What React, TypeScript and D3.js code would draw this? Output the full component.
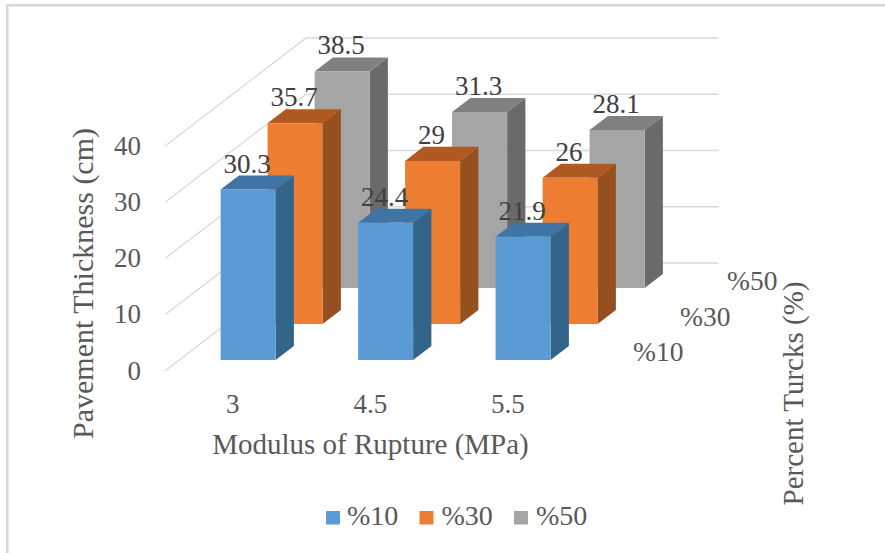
import * as d3 from "d3";

const W = 885;
const H = 553;

const categories = ["3", "4.5", "5.5"];
const seriesNames = ["%10", "%30", "%50"];
const values10 = [30.3, 24.4, 21.9];
const values30 = [35.7, 29, 26];
const values50 = [38.5, 31.3, 28.1];
const yTicks = [0, 10, 20, 30, 40];

const seriesValues = [values10, values30, values50];
const frontColors = ["#5B9BD5", "#ED7D31", "#A5A5A5"];
const sideColors = ["#326589", "#96501F", "#6A6A6A"];
const topColors = ["#3F74A5", "#B05A21", "#808080"];

const SERIF = "'Liberation Serif', serif";
const TEXT = "#595959";
const LABEL = "#404040";
const GRID = "#D9D9D9";

// Oblique projection: each depth unit moves a point right and up.
const DEPTH_DX = 47;
const DEPTH_DY = 36;

const x = d3.scaleBand<string>().domain(categories).range([165, 577.5]).paddingInner(0.6).paddingOuter(0.3);
const y = d3.scaleLinear().domain([0, 40]).range([371, 146]);
const z = d3.scaleBand<string>().domain(seriesNames).range([0, 3]).paddingInner(0.611).paddingOuter(0.3055);

const px = (xv: number, zv: number) => xv + zv * DEPTH_DX;
const py = (v: number, zv: number) => y(v) - zv * DEPTH_DY;
const poly = (pts: [number, number][]) => pts.map((p) => p.join(",")).join(" ");

function Bar({ cat, s, v }: { cat: string; s: number; v: number }) {
  const x0 = x(cat)!;
  const x1 = x0 + x.bandwidth();
  const z0 = z(seriesNames[s])!;
  const z1 = z0 + z.bandwidth();
  const front: [number, number][] = [[px(x0, z0), py(0, z0)], [px(x1, z0), py(0, z0)], [px(x1, z0), py(v, z0)], [px(x0, z0), py(v, z0)]];
  const side: [number, number][] = [[px(x1, z0), py(0, z0)], [px(x1, z1), py(0, z1)], [px(x1, z1), py(v, z1)], [px(x1, z0), py(v, z0)]];
  const top: [number, number][] = [[px(x0, z0), py(v, z0)], [px(x1, z0), py(v, z0)], [px(x1, z1), py(v, z1)], [px(x0, z1), py(v, z1)]];
  return (
    <g>
      <polygon points={poly(side)} fill={sideColors[s]} />
      <polygon points={poly(top)} fill={topColors[s]} />
      <polygon points={poly(front)} fill={frontColors[s]} />
    </g>
  );
}

export default function App() {
  const legendSquares = [326, 419.5, 514];
  const legendTexts = [347, 441.5, 536];
  return (
    <svg width={W} height={H} viewBox={`0 0 ${W} ${H}`} style={{ position: "absolute", left: 0, top: 0, fontFamily: SERIF }}>
      <rect width={W} height={H} fill="#fff" />
      {/* chart frame */}
      <path d="M7.3,553 V5.2 H885" fill="none" stroke="#D6D6D6" strokeWidth={2.5} />

      {/* side and back wall gridlines */}
      {yTicks.map((t) => (
        <polyline
          key={t}
          points={poly([[px(165, 0), py(t, 0)], [px(165, 3), py(t, 3)], [px(577.5, 3), py(t, 3)]])}
          fill="none"
          stroke={GRID}
          strokeWidth={1.3}
        />
      ))}

      {/* bars, back row first */}
      {[2, 1, 0].map((s) =>
        categories.map((c, i) => <Bar key={`${s}-${c}`} cat={c} s={s} v={seriesValues[s][i]} />)
      )}

      {/* value labels */}
      {seriesNames.map((name, s) =>
        categories.map((c, i) => {
          const z0 = z(name)!;
          const v = seriesValues[s][i];
          return (
            <text
              key={`${name}-${c}`}
              x={px(x(c)! + x.bandwidth() / 2, z0) - 1}
              y={py(v, z0 + z.bandwidth()) - 3}
              textAnchor="middle"
              fontSize={27}
              fill={LABEL}
            >
              {v}
            </text>
          );
        })
      )}

      {/* value axis ticks */}
      {yTicks.map((t) => (
        <text key={t} x={141} y={y(t) + 8.5} textAnchor="end" fontSize={27} fill={TEXT}>
          {t}
        </text>
      ))}

      {/* category ticks */}
      {categories.map((c) => (
        <text key={c} x={x(c)! + x.bandwidth() / 2 - 1} y={413} textAnchor="middle" fontSize={27} fill={TEXT}>
          {c}
        </text>
      ))}

      {/* depth axis ticks */}
      {seriesNames.map((name, s) => (
        <text key={name} x={633 + s * DEPTH_DX} y={361 - s * 35.5} fontSize={27.5} fill={TEXT}>
          {name}
        </text>
      ))}

      {/* axis titles */}
      <text x={370.5} y={454} textAnchor="middle" fontSize={29} fill={TEXT}>
        Modulus of Rupture (MPa)
      </text>
      <text transform="translate(93,283.5) rotate(-90)" textAnchor="middle" fontSize={30} fill={TEXT}>
        Pavement Thickness (cm)
      </text>
      <text transform="translate(803,393.5) rotate(-90)" textAnchor="middle" fontSize={29} fill={TEXT}>
        Percent Turcks (%)
      </text>

      {/* legend */}
      {seriesNames.map((name, s) => (
        <g key={name}>
          <rect x={legendSquares[s]} y={511} width={14} height={13.5} fill={frontColors[s]} />
          <text x={legendTexts[s]} y={525} fontSize={28} fill={TEXT}>
            {name}
          </text>
        </g>
      ))}
    </svg>
  );
}
